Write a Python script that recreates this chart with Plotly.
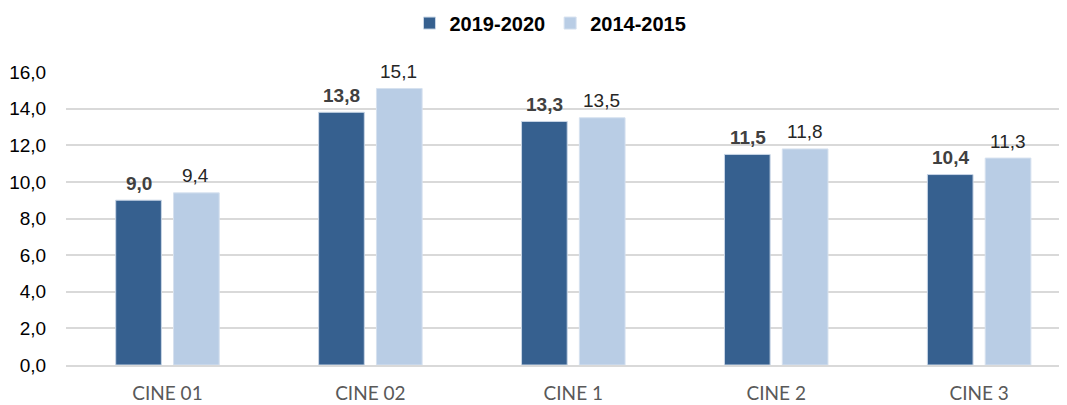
import plotly.graph_objects as go

categories = ["CINE 01", "CINE 02", "CINE 1", "CINE 2", "CINE 3"]
series_2019 = [9.0, 13.8, 13.3, 11.5, 10.4]
series_2014 = [9.4, 15.1, 13.5, 11.8, 11.3]
y_ticks = [0, 2, 4, 6, 8, 10, 12, 14, 16]
y_tick_labels = ["0,0", "2,0", "4,0", "6,0", "8,0", "10,0", "12,0", "14,0", "16,0"]

def fmt(v):
    return f"{v:.1f}".replace(".", ",")

fig = go.Figure()
fig.add_trace(go.Bar(
    name="<b>2019-2020</b>", x=categories, y=series_2019,
    marker=dict(color="#36608F", line=dict(color="#C9D6E6", width=1)),
))
fig.add_trace(go.Bar(
    name="<b>2014-2015</b>", x=categories, y=series_2014,
    marker=dict(color="#B9CDE5", line=dict(color="#D6E1EF", width=1)),
))

# value labels above bars
for c, v in zip(categories, series_2019):
    fig.add_annotation(x=c, y=v, xref="x", yref="y", text=f"<b>{fmt(v)}</b>",
                       showarrow=False, xshift=-28.5, yshift=17, yanchor="middle",
                       font=dict(family="Liberation Sans, Arial", size=19, color="#404040"))
for c, v in zip(categories, series_2014):
    fig.add_annotation(x=c, y=v, xref="x", yref="y", text=fmt(v),
                       showarrow=False, xshift=28.5, yshift=17, yanchor="middle",
                       font=dict(family="Liberation Sans, Arial", size=19, color="#262626"))

fig.update_layout(
    width=1059, height=397,
    margin=dict(l=58, r=0, t=64, b=40, autoexpand=False),
    plot_bgcolor="white", paper_bgcolor="white",
    barmode="group", bargap=0.43, bargroupgap=0.21,
    showlegend=True,
    legend=dict(orientation="h", x=0.484, xanchor="center", y=1.167, yanchor="middle",
                font=dict(family="Liberation Sans, Arial", size=20, color="#000000"),
                itemwidth=30, traceorder="normal"),
    font=dict(family="Liberation Sans, Arial"),
)
fig.update_xaxes(
    range=[-0.5, 4.433], showgrid=False, showline=True, linecolor="#D9D9D9", linewidth=1.5,
    ticks="", ticklabelstandoff=10, tickfont=dict(family="Lato, Open Sans", size=19, color="#595959"),
)
fig.update_yaxes(
    range=[0, 16], tickvals=y_ticks, ticktext=y_tick_labels,
    showgrid=True, gridcolor="#D9D9D9", gridwidth=1.5, zeroline=False,
    ticks="outside", ticklen=15, tickcolor="rgba(0,0,0,0)",
    tickfont=dict(family="Liberation Sans, Arial", size=19, color="#000000"),
)
fig.write_html("out.html")
